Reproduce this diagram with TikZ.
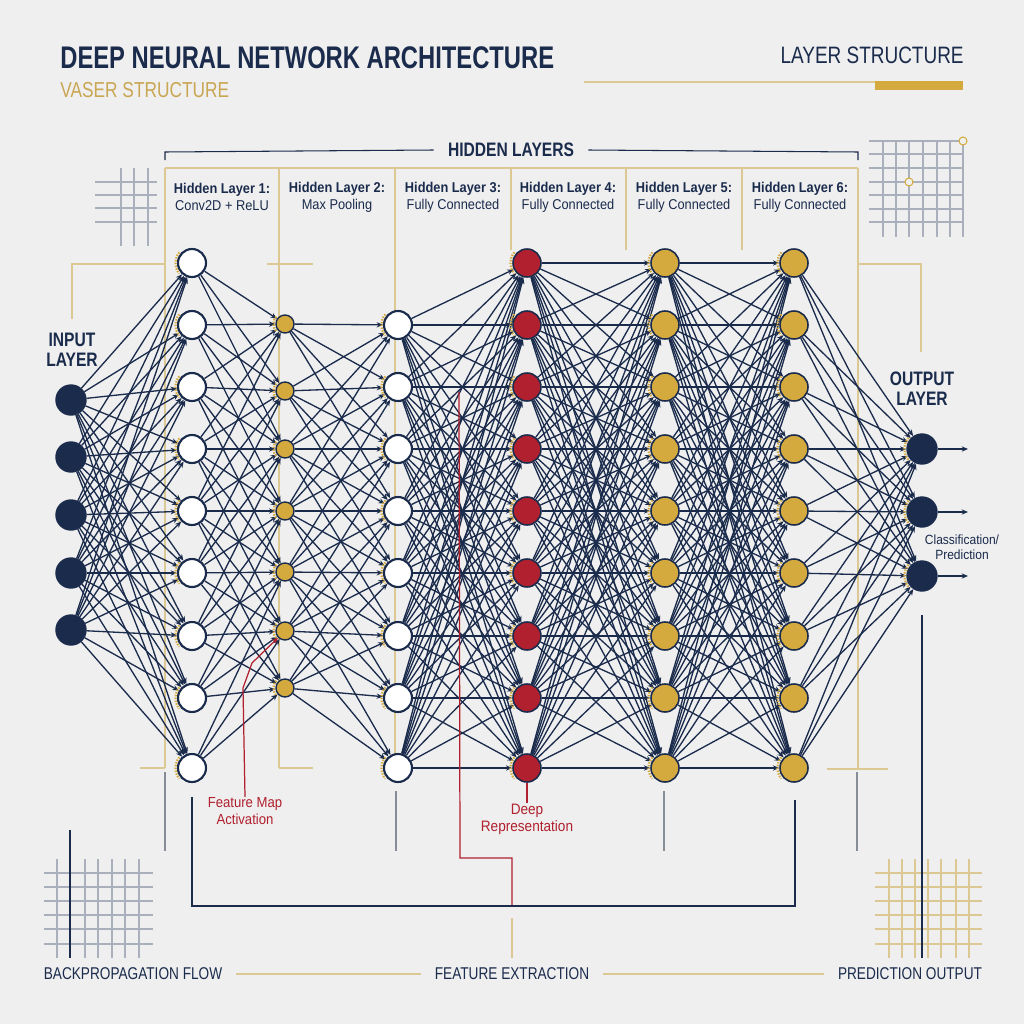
\documentclass[tikz,border=0pt]{standalone}
\usepackage{fontspec}
\setmainfont{Liberation Sans}
\newfontfamily\titlefont[FakeStretch=0.76]{Liberation Sans}
\newfontfamily\capsfont[FakeStretch=0.8]{Liberation Sans}
\newfontfamily\labelfont[FakeStretch=0.9]{Liberation Sans}
\usetikzlibrary{arrows.meta}

\definecolor{navy}{HTML}{1A2B4C}
\definecolor{gold}{HTML}{D4AA3F}
\definecolor{lightgold}{HTML}{DCC892}
\definecolor{deepred}{HTML}{B0202E}
\definecolor{paper}{HTML}{EFEFEF}
\definecolor{gridgray}{HTML}{A9B0BC}
\definecolor{textgold}{HTML}{C9A652}

\pgfdeclarelayer{deco}
\pgfdeclarelayer{links}
\pgfsetlayers{deco,links,main}

% row positions (pixels of a 1024 square)
\def\rowY{263,325,387,449,511,573,636,698,768}
\def\hTwoY{324,391,449,511,572,631,688}
\def\hThreeY{325,387,449,511,573,636,698,768}

\begin{document}
\begin{tikzpicture}[x=0.02cm, y=-0.02cm,
    link/.style={draw=navy, line width=0.75pt, -{Stealth[length=3.6pt,width=3pt]}},
    inNode/.style={circle, draw=navy, fill=navy, line width=0.8pt, minimum size=0.6cm, inner sep=0pt},
    openNode/.style={circle, draw=navy, fill=white, line width=1.2pt, minimum size=0.56cm, inner sep=0pt},
    poolNode/.style={circle, draw=navy, fill=gold, line width=0.8pt, minimum size=0.36cm, inner sep=0pt},
    deepNode/.style={circle, draw=navy, fill=deepred, line width=0.9pt, minimum size=0.56cm, inner sep=0pt},
    fcNode/.style={circle, draw=navy, fill=gold, line width=0.9pt, minimum size=0.56cm, inner sep=0pt},
    goldline/.style={draw=lightgold, line width=0.6pt},
    gridline/.style={draw=gridgray, line width=0.6pt},
    greyline/.style={draw=gridgray!80!black, line width=0.6pt},
    navyline/.style={draw=navy, line width=0.8pt},
    redline/.style={draw=deepred, line width=0.7pt},
    glow/.style={draw=gold, line width=1.3pt, dash pattern=on 0.8pt off 0.8pt},
    headtext/.style={font=\labelfont\fontsize{8.1}{9.6}\selectfont, text=navy, align=center, inner sep=0pt},
    layertitle/.style={font=\capsfont\bfseries\fontsize{11.1}{11.3}\selectfont, text=navy, align=center, inner sep=0pt},
    bottomtext/.style={font=\capsfont\fontsize{9.7}{11}\selectfont, text=navy, inner xsep=0.27cm, inner ysep=0pt},
    notetext/.style={font=\labelfont\fontsize{8.3}{10}\selectfont, text=deepred, align=center, inner sep=0pt}
]

% Background, frames and grids
\begin{pgfonlayer}{deco}
\fill[paper] (0,0) rectangle (1024,1024);
\draw[goldline] (584,82) -- (875,82);
\fill[gold] (875,81) rectangle (963,90);
\draw[goldline] (165,168) -- (858,168);
\foreach \x in {165,279,395} \draw[goldline] (\x,168) -- (\x,768);
\foreach \x in {511,626,742} \draw[goldline] (\x,168) -- (\x,250);
\draw[goldline] (858,168) -- (858,769);
\draw[goldline] (72,319) -- (72,264) -- (165,264);
\draw[goldline] (267,264) -- (313,264);
\draw[goldline] (858,264) -- (921,264) -- (921,352);
\draw[goldline] (140,768) -- (165,768);
\draw[goldline] (279,768) -- (313,768);
\draw[goldline] (827,769) -- (888,769);
\foreach \x/\a in {165/772,396/791,664/791,857/772} \draw[greyline] (\x,\a) -- (\x,851);
% grids
\foreach \x in {121,134,148} \draw[gridline] (\x,168) -- (\x,246);
\foreach \y in {182,195,208,222} \draw[gridline] (95,\y) -- (157,\y);
\foreach \x in {883,896,909,923,937,950,963} \draw[gridline] (\x,141) -- (\x,237);
\foreach \y in {141,154,168,182,195,209,222} \draw[gridline] (869,\y) -- (963,\y);
\foreach \x in {57,85,98,112,125,139} \draw[gridline] (\x,859) -- (\x,958);
\foreach \y in {873,887,901,915,929,944} \draw[gridline] (44,\y) -- (153,\y);
\foreach \x in {889,902,915,928,941,956,969} \draw[goldline] (\x,859) -- (\x,958);
\foreach \y in {873,887,901,915,929,944} \draw[goldline] (875,\y) -- (982,\y);
\draw[navyline, line width=0.6pt] (70,830) -- (70,958);
\draw[navyline, line width=0.6pt] (922,615) -- (922,958);
\end{pgfonlayer}
\filldraw[draw=gold, fill=paper, line width=0.6pt] (963,141) circle[radius=0.08cm];
\filldraw[draw=gold, fill=paper, line width=0.6pt] (909,182) circle[radius=0.08cm];

% Titles
\node[anchor=base west, inner sep=0pt, text=navy, font=\titlefont\bfseries\fontsize{17.8}{20}\selectfont] (mainTitle) at (60,69) {DEEP NEURAL NETWORK ARCHITECTURE};
\node[anchor=base west, inner sep=0pt, text=textgold, font=\capsfont\fontsize{12.3}{14}\selectfont] (subTitle) at (60,98) {VASER STRUCTURE};
\node[anchor=base east, inner sep=0pt, text=navy, font=\capsfont\fontsize{13.5}{15}\selectfont] (sideTitle) at (964,64) {LAYER STRUCTURE};
\node[text=navy, font=\capsfont\bfseries\fontsize{11.1}{12}\selectfont, inner xsep=0.28cm, inner ysep=0pt] (hiddenTitle) at (511,150) {HIDDEN LAYERS};
\draw[navyline, line width=0.6pt] (hiddenTitle.west) -- (165,152) -- (165,160);
\draw[navyline, line width=0.6pt] (hiddenTitle.east) -- (858,152) -- (858,160);

% Layer headers
\foreach \cx/\num/\desc in {222/1/Conv2D + ReLU, 337/2/Max Pooling, 453/3/Fully Connected,
    568/4/Fully Connected, 684/5/Fully Connected, 800/6/Fully Connected}
  \node[headtext] (head-\num) at (\cx,197) {\textbf{Hidden Layer \num:}\\\desc};
\node[layertitle] (inpTitle) at (72,350) {INPUT\\LAYER};
\node[layertitle] (outTitle) at (922,389) {OUTPUT\\LAYER};

% Neurons
\foreach \y [count=\i] in {400,457,515,573,630} \node[inNode] (inp-\i) at (71,\y) {};
\foreach \y [count=\i] in \rowY \node[openNode] (h1-\i) at (192,\y) {};
\foreach \y [count=\i] in \hTwoY \node[poolNode] (h2-\i) at (285,\y) {};
\foreach \y [count=\i] in \hThreeY \node[openNode] (h3-\i) at (398,\y) {};
\foreach \y [count=\i] in \rowY \node[deepNode] (h4-\i) at (527,\y) {};
\foreach \y [count=\i] in \rowY \node[fcNode] (h5-\i) at (665,\y) {};
\foreach \y [count=\i] in \rowY \node[fcNode] (h6-\i) at (794,\y) {};
\foreach \y [count=\i] in {449,512,576} {
  \node[inNode] (out-\i) at (922,\y) {};
  \coordinate (tip-\i) at (968,\y);
}

% Connections
\begin{pgfonlayer}{links}
\foreach \i in {1,...,5} \foreach \j in {1,...,9} \draw[link] (inp-\i) -- (h1-\j);
\foreach \ya [count=\i] in \rowY {
  \foreach \yb [count=\j] in \hTwoY {
    \pgfmathtruncatemacro\dist{abs(\ya-\yb)}
    \ifnum\dist<200 \draw[link] (h1-\i) -- (h2-\j); \fi
  }
}
\foreach \ya [count=\i] in \hTwoY {
  \foreach \yb [count=\j] in \hThreeY {
    \pgfmathtruncatemacro\dist{abs(\ya-\yb)}
    \ifnum\dist<200 \draw[link] (h2-\i) -- (h3-\j); \fi
  }
}
\foreach \i in {1,...,8} \foreach \j in {1,...,9} \draw[link] (h3-\i) -- (h4-\j);
\foreach \i in {1,...,9} \foreach \j in {1,...,9} \draw[link] (h4-\i) -- (h5-\j);
\foreach \i in {1,...,9} \foreach \j in {1,...,9} \draw[link] (h5-\i) -- (h6-\j);
\foreach \i in {1,...,9} \foreach \j in {1,...,3} \draw[link] (h6-\i) -- (out-\j);
\foreach \i in {1,2,3} \draw[link] (out-\i) -- (tip-\i);
% input glow
\foreach \l/\k/\r in {h1/9/0.33cm, h2/7/0.23cm, h3/8/0.33cm, h4/9/0.33cm, h5/9/0.33cm, h6/9/0.33cm, out/3/0.35cm}
  \foreach \i in {1,...,\k}
    \draw[glow] ([shift={(140:\r)}]\l-\i.center) arc[start angle=140, end angle=220, radius=\r];
\end{pgfonlayer}

% Annotations
\node[notetext] (fmap) at (245,811) {Feature Map\\Activation};
\draw[redline, -{Stealth[length=3.4pt,width=2.8pt]}] (fmap.north) -- (243,688) -- (252,663) -- (h2-6);
\node[notetext, font=\labelfont\fontsize{8.6}{9.6}\selectfont] (deepRep) at (527,819) {Deep\\Representation};
\draw[redline] (h4-9.south) -- (deepRep.north);
\coordinate (redTop) at (459,392);
\coordinate (bracketMid) at (512,906);
\draw[redline] (redTop) -- (460,858) -- (512,858) -- (bracketMid);
\draw[navyline] (192,797) -- (192,906) -- (bracketMid) -- (795,906) -- (795,800);
\node[font=\labelfont\fontsize{7.6}{8.5}\selectfont, text=navy, align=center, inner sep=0pt] (predNote) at (962,547) {Classification/\\Prediction};

% Footer
\node[bottomtext] (backFlow) at (133,974) {BACKPROPAGATION FLOW};
\node[bottomtext] (featExt) at (512,974) {FEATURE EXTRACTION};
\node[bottomtext] (predOut) at (910,974) {PREDICTION OUTPUT};
\draw[goldline, line width=0.9pt] (backFlow.east) -- (featExt.west);
\draw[goldline, line width=0.9pt] (featExt.east) -- (predOut.west);
\draw[goldline, line width=0.9pt] (512,918) -- (512,958);

\end{tikzpicture}
\end{document}
